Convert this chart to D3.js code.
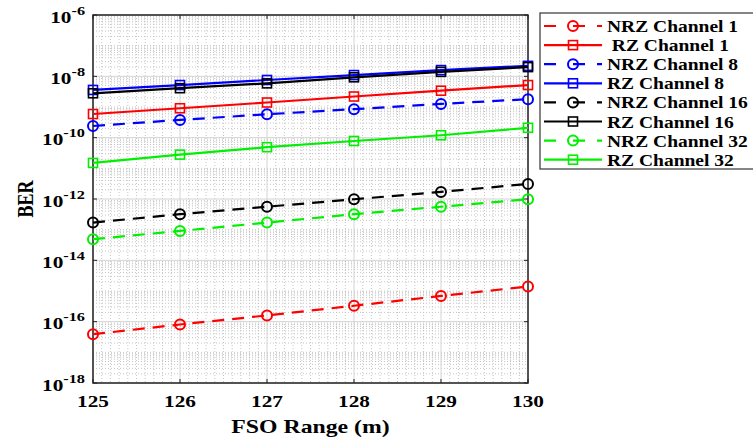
<!DOCTYPE html>
<meta charset="utf-8">
<script src="https://d3js.org/d3.v7.min.js"></script>
<style>
  body { margin: 0; background: #fff; }
  text { font-family: "Liberation Serif", "Times New Roman", serif; font-weight: bold; fill: #000; }
</style>
<div id="chart"></div>
<script>
// data
var ranges = [125, 126, 127, 128, 129, 130];
var nrz1  = [3.9e-17, 8.1e-17, 1.6e-16, 3.3e-16, 6.9e-16, 1.4e-15];
var rz1   = [5.9e-10, 9.1e-10, 1.4e-9, 2.2e-9, 3.4e-9, 5.2e-9];
var nrz8  = [2.4e-10, 3.8e-10, 5.8e-10, 8.5e-10, 1.26e-9, 1.8e-9];
var rz8   = [3.6e-9, 5.2e-9, 7.6e-9, 1.1e-8, 1.6e-8, 2.2e-8];
var nrz16 = [1.7e-13, 3.2e-13, 5.6e-13, 9.8e-13, 1.7e-12, 3.1e-12];
var rz16  = [2.8e-9, 4.1e-9, 5.9e-9, 9.3e-9, 1.4e-8, 2.0e-8];
var nrz32 = [4.9e-14, 9.1e-14, 1.7e-13, 3.2e-13, 5.6e-13, 9.8e-13];
var rz32  = [1.5e-11, 2.8e-11, 4.9e-11, 7.8e-11, 1.2e-10, 2.1e-10];

var seriesNames = ["NRZ Channel 1", " RZ Channel 1", "NRZ Channel 8", "RZ Channel 8",
                   "NRZ Channel 16", "RZ Channel 16", "NRZ Channel 32", "RZ Channel 32"];
var seriesValues = [nrz1, rz1, nrz8, rz8, nrz16, rz16, nrz32, rz32];
var seriesColors = ["#ff0000", "#ff0000", "#0000ff", "#0000ff", "#000000", "#000000", "#00f000", "#00f000"];

var xTicks = [125, 126, 127, 128, 129, 130];
var yExps = [-6, -8, -10, -12, -14, -16, -18];

var W = 753, H = 441;
var margin = {top: 15, left: 93, right: 225, bottom: 58};
var width = W - margin.left - margin.right,
    height = H - margin.top - margin.bottom;
var sx = 1.25; // the picture's text is stretched sideways

var svg = d3.select("#chart").append("svg")
    .attr("width", W).attr("height", H);
var g = svg.append("g")
    .attr("transform", "translate(" + margin.left + "," + margin.top + ")");

var x = d3.scaleLinear().domain([125, 130]).range([0, width]);
var y = d3.scaleLog().domain([1e-18, 1e-6]).range([height, 0]);

// minor grid
var minorX = d3.range(1250, 1301).filter(function (d) { return d % 10 != 0; }).map(function (d) { return d / 10; });
g.append("g").selectAll("line").data(minorX).enter().append("line")
    .attr("x1", function (d) { return x(d); }).attr("x2", function (d) { return x(d); })
    .attr("y1", 0).attr("y2", height)
    .attr("stroke", "#b8b8b8").attr("stroke-width", 0.8).attr("stroke-dasharray", "1,2");

var minorY = [];
for (var e = -18; e < -6; e++) {
  for (var m = 1; m < 10; m++) {
    if (m == 1 && yExps.indexOf(e) >= 0) continue;
    minorY.push(m * Math.pow(10, e));
  }
}
g.append("g").selectAll("line").data(minorY).enter().append("line")
    .attr("x1", 0).attr("x2", width)
    .attr("y1", function (d) { return y(d); }).attr("y2", function (d) { return y(d); })
    .attr("stroke", "#b8b8b8").attr("stroke-width", 0.8).attr("stroke-dasharray", "1,2");

// major grid
g.append("g").selectAll("line").data(xTicks).enter().append("line")
    .attr("x1", function (d) { return x(d); }).attr("x2", function (d) { return x(d); })
    .attr("y1", 0).attr("y2", height)
    .attr("stroke", "#d4d4d4").attr("stroke-width", 1);
g.append("g").selectAll("line").data(yExps).enter().append("line")
    .attr("x1", 0).attr("x2", width)
    .attr("y1", function (d) { return y(Math.pow(10, d)); }).attr("y2", function (d) { return y(Math.pow(10, d)); })
    .attr("stroke", "#d4d4d4").attr("stroke-width", 1);

// inward ticks on all sides
var tk = 4;
xTicks.forEach(function (d) {
  g.append("line").attr("x1", x(d)).attr("x2", x(d)).attr("y1", height).attr("y2", height - tk).attr("stroke", "#222");
  g.append("line").attr("x1", x(d)).attr("x2", x(d)).attr("y1", 0).attr("y2", tk).attr("stroke", "#222");
});
yExps.forEach(function (d) {
  var yy = y(Math.pow(10, d));
  g.append("line").attr("x1", 0).attr("x2", tk).attr("y1", yy).attr("y2", yy).attr("stroke", "#222");
  g.append("line").attr("x1", width).attr("x2", width - tk).attr("y1", yy).attr("y2", yy).attr("stroke", "#222");
});

// box
g.append("rect").attr("width", width).attr("height", height)
    .attr("fill", "none").attr("stroke", "#222").attr("stroke-width", 1.5);

// x tick labels
xTicks.forEach(function (d) {
  g.append("text")
    .attr("transform", "translate(" + x(d) + "," + (height + 24) + ") scale(" + sx + ",1)")
    .attr("text-anchor", "middle").style("font-size", "17px")
    .text(d);
});

// y tick labels 10^e
yExps.forEach(function (d) {
  var t = g.append("text")
    .attr("transform", "translate(-8," + (y(Math.pow(10, d)) + 7.5) + ") scale(" + sx + ",1)")
    .attr("text-anchor", "end").style("font-size", "17px");
  t.append("tspan").text("10");
  t.append("tspan").attr("dy", -8).style("font-size", "13px").text(d);
});

// axis titles
g.append("text")
    .attr("transform", "translate(" + (width / 2) + "," + (height + 50) + ") scale(" + sx + ",1)")
    .attr("text-anchor", "middle").style("font-size", "19px")
    .text("FSO Range (m)");
g.append("text")
    .attr("transform", "translate(" + (-60) + "," + (height / 2) + ") rotate(-90) scale(1," + sx + ")")
    .attr("text-anchor", "middle").style("font-size", "18px")
    .text("BER");

// lines and markers
var line = d3.line()
    .x(function (d, i) { return x(ranges[i]); })
    .y(function (d) { return y(d); });

seriesValues.forEach(function (vals, s) {
  var nrz = s % 2 == 0;
  var c = seriesColors[s];
  g.append("path").datum(vals)
    .attr("d", line)
    .attr("fill", "none").attr("stroke", c).attr("stroke-width", 2.2)
    .attr("stroke-dasharray", nrz ? "12,8" : null);
  var mk = g.append("g");
  vals.forEach(function (v, i) {
    if (nrz) {
      mk.append("circle").attr("cx", x(ranges[i])).attr("cy", y(v)).attr("r", 5)
        .attr("fill", "none").attr("stroke", c).attr("stroke-width", 2);
    } else {
      mk.append("rect").attr("x", x(ranges[i]) - 4.5).attr("y", y(v) - 4.5)
        .attr("width", 9).attr("height", 9)
        .attr("fill", "none").attr("stroke", c).attr("stroke-width", 1.6);
    }
  });
});

// legend (its right edge runs off the page, as in the figure)
var lg = svg.append("g").attr("transform", "translate(540,13)");
lg.append("rect").attr("width", 230).attr("height", 156)
    .attr("fill", "#fff").attr("stroke", "#444").attr("stroke-width", 1.3);
seriesNames.forEach(function (name, s) {
  var nrz = s % 2 == 0;
  var c = seriesColors[s];
  var yy = 13 + s * 19.1;
  var row = lg.append("g").attr("transform", "translate(0," + yy + ")");
  row.append("line").attr("x1", 4).attr("x2", 62).attr("y1", 0).attr("y2", 0)
    .attr("stroke", c).attr("stroke-width", 2.2)
    .attr("stroke-dasharray", nrz ? "12,17,12" : null);
  if (nrz) {
    row.append("circle").attr("cx", 33).attr("cy", 0).attr("r", 5)
      .attr("fill", "none").attr("stroke", c).attr("stroke-width", 2);
  } else {
    row.append("rect").attr("x", 28.5).attr("y", -4.5).attr("width", 9).attr("height", 9)
      .attr("fill", "none").attr("stroke", c).attr("stroke-width", 1.6);
  }
  row.append("text")
    .attr("transform", "translate(67,6) scale(1.22,1)")
    .style("font-size", "16px").style("white-space", "pre")
    .text(name);
});
</script>
